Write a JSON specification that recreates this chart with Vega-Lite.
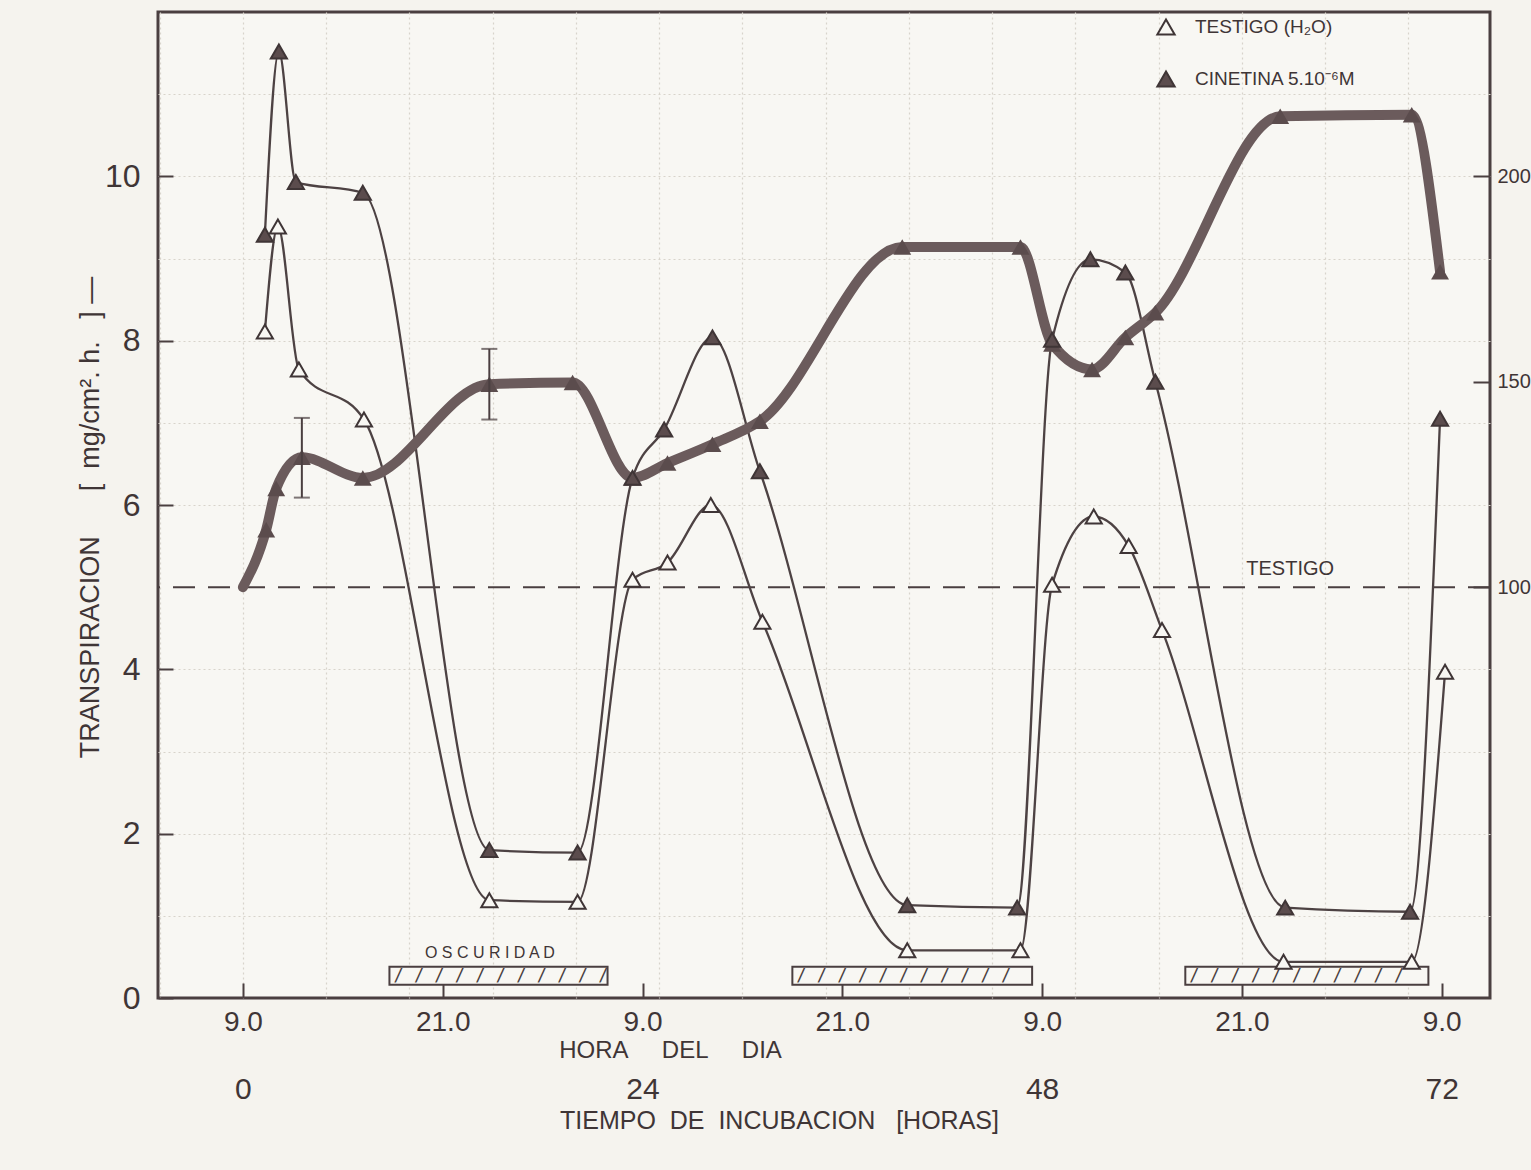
{
  "$schema": "https://vega.github.io/schema/vega-lite/v6.json",
  "width": 1332,
  "height": 986,
  "autosize": {"type": "none"},
  "padding": {"left": 158, "top": 12, "right": 41, "bottom": 172},
  "background": "#f5f3ee",
  "config": {
    "view": {"stroke": "#4a3f40", "strokeWidth": 3, "fill": "#f8f7f3"},
    "font": "Liberation Sans",
    "axis": {"labelColor": "#3f3536", "titleColor": "#3f3536", "tickColor": "#4a3f40", "tickWidth": 2, "domain": false, "grid": false, "labelFont": "Liberation Sans", "titleFont": "Liberation Sans", "titleFontWeight": "normal"}
  },
  "datasets": {
    "thin": [
      {"h": 1.32, "v": 8.11, "s": "TESTIGO (H₂O)"},
      {"h": 2.1, "v": 9.39, "s": "TESTIGO (H₂O)"},
      {"h": 3.36, "v": 7.65, "s": "TESTIGO (H₂O)"},
      {"h": 7.27, "v": 7.04, "s": "TESTIGO (H₂O)"},
      {"h": 14.8, "v": 1.19, "s": "TESTIGO (H₂O)"},
      {"h": 20.1, "v": 1.17, "s": "TESTIGO (H₂O)"},
      {"h": 23.4, "v": 5.09, "s": "TESTIGO (H₂O)"},
      {"h": 25.5, "v": 5.3, "s": "TESTIGO (H₂O)"},
      {"h": 28.1, "v": 6.0, "s": "TESTIGO (H₂O)"},
      {"h": 31.2, "v": 4.58, "s": "TESTIGO (H₂O)"},
      {"h": 39.9, "v": 0.58, "s": "TESTIGO (H₂O)"},
      {"h": 46.7, "v": 0.58, "s": "TESTIGO (H₂O)"},
      {"h": 48.6, "v": 5.03, "s": "TESTIGO (H₂O)"},
      {"h": 51.1, "v": 5.86, "s": "TESTIGO (H₂O)"},
      {"h": 53.2, "v": 5.5, "s": "TESTIGO (H₂O)"},
      {"h": 55.2, "v": 4.48, "s": "TESTIGO (H₂O)"},
      {"h": 62.5, "v": 0.44, "s": "TESTIGO (H₂O)"},
      {"h": 70.2, "v": 0.44, "s": "TESTIGO (H₂O)"},
      {"h": 72.2, "v": 3.97, "s": "TESTIGO (H₂O)"},
      {"h": 1.32, "v": 9.29, "s": "CINETINA 5.10⁻⁶M"},
      {"h": 2.16, "v": 11.52, "s": "CINETINA 5.10⁻⁶M"},
      {"h": 3.18, "v": 9.93, "s": "CINETINA 5.10⁻⁶M"},
      {"h": 7.2, "v": 9.8, "s": "CINETINA 5.10⁻⁶M"},
      {"h": 14.8, "v": 1.8, "s": "CINETINA 5.10⁻⁶M"},
      {"h": 20.1, "v": 1.77, "s": "CINETINA 5.10⁻⁶M"},
      {"h": 23.4, "v": 6.33, "s": "CINETINA 5.10⁻⁶M"},
      {"h": 25.3, "v": 6.92, "s": "CINETINA 5.10⁻⁶M"},
      {"h": 28.2, "v": 8.04, "s": "CINETINA 5.10⁻⁶M"},
      {"h": 31.05, "v": 6.41, "s": "CINETINA 5.10⁻⁶M"},
      {"h": 39.9, "v": 1.13, "s": "CINETINA 5.10⁻⁶M"},
      {"h": 46.5, "v": 1.1, "s": "CINETINA 5.10⁻⁶M"},
      {"h": 48.6, "v": 8.01, "s": "CINETINA 5.10⁻⁶M"},
      {"h": 50.9, "v": 8.99, "s": "CINETINA 5.10⁻⁶M"},
      {"h": 53.0, "v": 8.83, "s": "CINETINA 5.10⁻⁶M"},
      {"h": 54.8, "v": 7.5, "s": "CINETINA 5.10⁻⁶M"},
      {"h": 62.6, "v": 1.1, "s": "CINETINA 5.10⁻⁶M"},
      {"h": 70.1, "v": 1.05, "s": "CINETINA 5.10⁻⁶M"},
      {"h": 71.9, "v": 7.05, "s": "CINETINA 5.10⁻⁶M"}
    ],
    "ratio": [
      {"h": 0, "pct": 100},
      {"h": 1.4, "pct": 114},
      {"h": 2.0, "pct": 124},
      {"h": 3.54, "pct": 131.6},
      {"h": 7.2, "pct": 126.6},
      {"h": 14.8, "pct": 149.4},
      {"h": 19.8, "pct": 149.8},
      {"h": 23.4, "pct": 126.6},
      {"h": 25.5, "pct": 130.2},
      {"h": 28.2, "pct": 134.8},
      {"h": 31.05, "pct": 140.4},
      {"h": 39.6, "pct": 182.8},
      {"h": 46.7, "pct": 182.8},
      {"h": 48.6, "pct": 159.2},
      {"h": 51.0, "pct": 153},
      {"h": 53.0, "pct": 160.8},
      {"h": 54.8, "pct": 166.8},
      {"h": 62.3, "pct": 214.6},
      {"h": 70.2, "pct": 215},
      {"h": 71.9, "pct": 176.8}
    ],
    "err": [
      {"h": 3.54, "lo": 121.8, "hi": 141.2},
      {"h": 14.8, "lo": 140.8, "hi": 158}
    ],
    "dark": [
      {"start": 8.8, "end": 21.9},
      {"start": 33.0, "end": 47.4},
      {"start": 56.6, "end": 71.2}
    ],
    "one": [{}]
  },
  "resolve": {"scale": {"y": "independent"}, "axis": {"x": "independent"}},
  "layer": [
    {
      "data": {"name": "one"},
      "mark": {"type": "rule", "strokeDash": [22, 13], "strokeWidth": 2, "color": "#4a3f40"},
      "encoding": {"y": {"datum": 5, "type": "quantitative", "scale": {"domain": [0, 12], "nice": false, "zero": false},
        "axis": {"orient": "left", "grid": true, "values": [1, 2, 3, 4, 6, 7, 8, 9, 10, 11], "labels": false, "ticks": false, "title": null, "gridColor": "#d8d4cb", "gridDash": [2, 3], "gridWidth": 1.2}}}
    },
    {
      "data": {"name": "one"},
      "mark": {"type": "text", "text": "O S C U R I D A D", "fontSize": 16, "color": "#3f3536", "baseline": "middle"},
      "encoding": {
        "x": {"datum": 14.83, "type": "quantitative", "scale": {"domain": [-5.1, 74.9], "nice": false, "zero": false},
          "axis": {"orient": "bottom", "grid": true, "values": [-5, 0, 5, 10, 15, 20, 25, 30, 35, 40, 45, 50, 55, 60, 65, 70], "labels": false, "ticks": false, "title": null, "gridColor": "#d8d4cb", "gridDash": [2, 3], "gridWidth": 1.2}},
        "y": {"datum": 0.55, "type": "quantitative", "scale": {"domain": [0, 12], "nice": false, "zero": false}, "axis": null}
      }
    },
    {
      "data": {"name": "thin"},
      "mark": {"type": "line", "interpolate": "monotone", "color": "#4d4243", "strokeWidth": 2.3},
      "encoding": {
        "x": {"field": "h", "type": "quantitative",
          "axis": {"orient": "bottom", "values": [0, 12, 24, 36, 48, 60, 72], "labelExpr": "datum.value % 24 == 0 ? '9.0' : '21.0'", "tickSize": -15, "labelPadding": 25, "labelFontSize": 28, "title": "HORA\u00a0\u00a0\u00a0\u00a0\u00a0DEL\u00a0\u00a0\u00a0\u00a0\u00a0DIA", "titleFontSize": 24, "titleX": 512, "titleY": 40, "titleBaseline": "top"}},
        "y": {"field": "v", "type": "quantitative", "scale": {"domain": [0, 12], "nice": false, "zero": false},
          "axis": {"orient": "left", "values": [0, 2, 4, 6, 8, 10], "tickSize": -15, "labelPadding": 33, "labelFontSize": 32, "title": "TRANSPIRACION\u00a0\u00a0\u00a0\u00a0\u00a0\u00a0[\u00a0\u00a0mg/cm².\u00a0h.\u00a0\u00a0\u00a0]\u00a0—", "titleFontSize": 27, "titleX": -68, "titleY": 505, "titleBaseline": "middle"}},
        "detail": {"field": "s"}
      }
    },
    {
      "data": {"name": "dark"},
      "mark": {"type": "rect", "fill": "#f8f7f3", "stroke": "#4a3f40", "strokeWidth": 2},
      "encoding": {
        "x": {"field": "start", "type": "quantitative", "axis": null},
        "x2": {"field": "end"},
        "y": {"datum": 0.16, "type": "quantitative", "scale": {"domain": [0, 12], "nice": false, "zero": false}, "axis": null},
        "y2": {"datum": 0.38}
      }
    },
    {
      "data": {"name": "dark"},
      "mark": {"type": "text", "text": "/ / / / / / / / / / /", "font": "DejaVu Sans Mono", "fontSize": 17, "align": "left", "baseline": "middle", "dx": 4, "color": "#4a3f40"},
      "encoding": {
        "x": {"field": "start", "type": "quantitative", "axis": null},
        "y": {"datum": 0.27, "type": "quantitative", "scale": {"domain": [0, 12], "nice": false, "zero": false}, "axis": null}
      }
    },
    {
      "data": {"name": "one"},
      "mark": {"type": "text", "text": "TESTIGO", "fontSize": 20, "color": "#3f3536", "baseline": "middle"},
      "encoding": {
        "x": {"datum": 62.9, "type": "quantitative", "axis": null},
        "y": {"datum": 5.22, "type": "quantitative", "scale": {"domain": [0, 12], "nice": false, "zero": false}, "axis": null}
      }
    },
    {
      "data": {"name": "ratio"},
      "mark": {"type": "line", "interpolate": "monotone", "color": "#6b5b5c", "strokeWidth": 10, "strokeCap": "round"},
      "encoding": {
        "x": {"field": "h", "type": "quantitative",
          "axis": {"orient": "bottom", "values": [0, 24, 48, 72], "format": "d", "ticks": false, "labelPadding": 76, "labelFontSize": 30, "title": "TIEMPO\u00a0\u00a0DE\u00a0\u00a0INCUBACION\u00a0\u00a0\u00a0[HORAS]", "titleFontSize": 25, "titleX": 621, "titleY": 110, "titleBaseline": "top"}},
        "y": {"field": "pct", "type": "quantitative", "scale": {"domain": [0, 240], "nice": false, "zero": false},
          "axis": {"orient": "right", "values": [100, 150, 200], "tickSize": -17, "labelPadding": 24, "labelFontSize": 20, "title": null}}
      }
    },
    {
      "data": {"name": "ratio"},
      "transform": [{"filter": "datum.h > 0"}],
      "mark": {"type": "point", "shape": "triangle-up", "filled": true, "size": 320, "color": "#5b4c4d", "opacity": 1},
      "encoding": {
        "x": {"field": "h", "type": "quantitative", "axis": null},
        "y": {"field": "pct", "type": "quantitative", "scale": {"domain": [0, 240], "nice": false, "zero": false}, "axis": null}
      }
    },
    {
      "data": {"name": "err"},
      "mark": {"type": "rule", "color": "#4a3f40", "strokeWidth": 2},
      "encoding": {
        "x": {"field": "h", "type": "quantitative", "axis": null},
        "y": {"field": "lo", "type": "quantitative", "scale": {"domain": [0, 240], "nice": false, "zero": false}, "axis": null},
        "y2": {"field": "hi"}
      }
    },
    {
      "data": {"name": "err"},
      "mark": {"type": "tick", "orient": "horizontal", "color": "#4a3f40", "size": 16, "thickness": 2},
      "encoding": {
        "x": {"field": "h", "type": "quantitative", "axis": null},
        "y": {"field": "lo", "type": "quantitative", "scale": {"domain": [0, 240], "nice": false, "zero": false}, "axis": null}
      }
    },
    {
      "data": {"name": "err"},
      "mark": {"type": "tick", "orient": "horizontal", "color": "#4a3f40", "size": 16, "thickness": 2},
      "encoding": {
        "x": {"field": "h", "type": "quantitative", "axis": null},
        "y": {"field": "hi", "type": "quantitative", "scale": {"domain": [0, 240], "nice": false, "zero": false}, "axis": null}
      }
    },
    {
      "data": {"name": "thin"},
      "mark": {"type": "point", "shape": "triangle-up", "filled": true, "size": 260, "stroke": "#3f3536", "strokeWidth": 2, "opacity": 1},
      "encoding": {
        "x": {"field": "h", "type": "quantitative", "axis": null},
        "y": {"field": "v", "type": "quantitative", "scale": {"domain": [0, 12], "nice": false, "zero": false}, "axis": null},
        "fill": {"field": "s", "type": "nominal",
          "scale": {"domain": ["TESTIGO (H₂O)", "CINETINA 5.10⁻⁶M"], "range": ["#f8f7f3", "#5b4c4d"]},
          "legend": {"orient": "none", "legendX": 998, "legendY": 5, "title": null, "symbolType": "triangle-up", "symbolSize": 300, "symbolStrokeColor": "#3f3536", "symbolStrokeWidth": 2, "labelFontSize": 19, "labelOffset": 19, "labelLimit": 400, "rowPadding": 28, "padding": 0, "labelColor": "#3f3536", "direction": "vertical"}}
      }
    }
  ]
}
